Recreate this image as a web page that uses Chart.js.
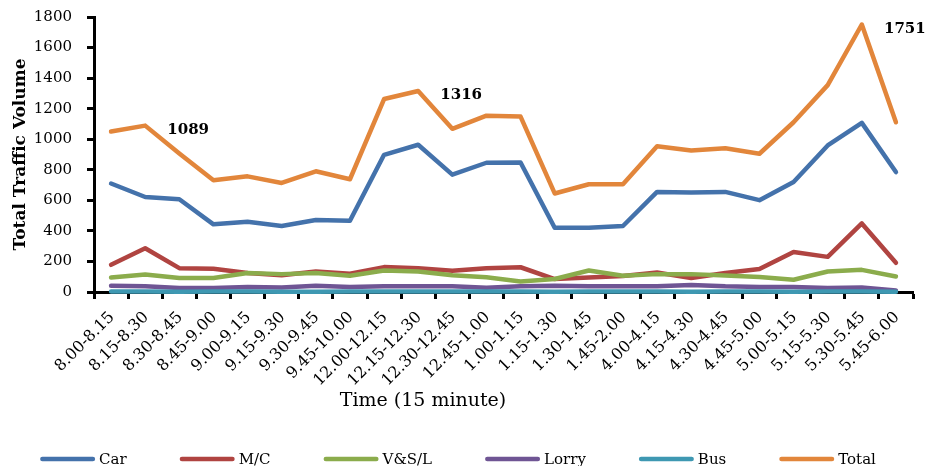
<!DOCTYPE html>
<html>
<head>
<meta charset="utf-8">
<script src="https://cdn.jsdelivr.net/npm/chart.js@4.4.1/dist/chart.umd.min.js"></script>
<style>
  html, body { margin: 0; padding: 0; background: #ffffff; }
  canvas { display: block; }
</style>
</head>
<body>
<canvas id="traffic" width="926" height="466"></canvas>
<script>
// 15-minute counting intervals (morning, midday and evening sessions)
const timeSlots = [
  '8.00-8.15', '8.15-8.30', '8.30-8.45', '8.45-9.00', '9.00-9.15', '9.15-9.30',
  '9.30-9.45', '9.45-10.00', '12.00-12.15', '12.15-12.30', '12.30-12.45', '12.45-1.00',
  '1.00-1.15', '1.15-1.30', '1.30-1.45', '1.45-2.00', '4.00-4.15', '4.15-4.30',
  '4.30-4.45', '4.45-5.00', '5.00-5.15', '5.15-5.30', '5.30-5.45', '5.45-6.00'
];

// Vehicle counts per interval
const car   = [710, 622, 607, 443, 460, 432, 471, 466, 898, 964, 768, 846, 848, 421, 421, 432, 655, 651, 655, 601, 720, 959, 1107, 785];
const moto  = [178, 286, 156, 152, 124, 110, 134, 119, 163, 156, 139, 156, 162, 85, 95, 105, 128, 91, 124, 150, 262, 230, 449, 191];
const vsl   = [95, 115, 91, 91, 124, 117, 124, 106, 141, 134, 110, 96, 69, 85, 141, 106, 117, 117, 108, 98, 80, 134, 145, 102];
const lorry = [41, 37, 26, 26, 33, 30, 41, 33, 37, 37, 37, 28, 37, 41, 37, 37, 37, 46, 37, 33, 33, 26, 30, 10];
const bus   = [3, 3, 2, 3, 3, 2, 2, 3, 3, 4, 3, 3, 3, 2, 3, 3, 3, 2, 3, 3, 2, 3, 3, 2];
const total = [1050, 1089, 907, 731, 757, 714, 790, 738, 1263, 1316, 1068, 1154, 1148, 645, 705, 705, 954, 926, 941, 905, 1111, 1354, 1751, 1111];

// Value axis ticks
const yMin = 0;
const yMax = 1800;
const yStep = 200;

// Number of intervals in each counting session
const sessionLength = 8;

const SERIF = '"DejaVu Serif", "Liberation Serif", serif';

function series(label, data, color, order) {
  return {
    label: label,
    data: data,
    borderColor: color,
    backgroundColor: color,
    borderWidth: 4.5,
    pointRadius: 0,
    pointHoverRadius: 0,
    tension: 0,
    borderJoinStyle: 'round',
    borderCapStyle: 'round',
    clip: 4,
    order: order
  };
}

// Peak of each session on the Total line, written next to its point
const peakLabels = {
  id: 'peakLabels',
  afterDatasetsDraw(chart) {
    const idx = chart.data.datasets.findIndex(d => d.label === 'Total');
    const meta = chart.getDatasetMeta(idx);
    const values = chart.data.datasets[idx].data;
    const ctx = chart.ctx;
    ctx.save();
    ctx.font = 'bold 15px ' + SERIF;
    ctx.fillStyle = '#000';
    ctx.textAlign = 'center';
    ctx.textBaseline = 'alphabetic';
    for (let s = 0; s < values.length; s += sessionLength) {
      let best = s;
      for (let i = s; i < Math.min(s + sessionLength, values.length); i++) {
        if (values[i] > values[best]) best = i;
      }
      const pt = meta.data[best];
      ctx.fillText(String(values[best]), pt.x + 43, pt.y + 8.5);
    }
    ctx.restore();
  }
};

// Horizontal axis caption
const timeCaption = {
  id: 'timeCaption',
  afterDraw(chart) {
    const ctx = chart.ctx;
    const area = chart.chartArea;
    ctx.save();
    ctx.font = '19px ' + SERIF;
    ctx.fillStyle = '#000';
    ctx.textAlign = 'center';
    ctx.textBaseline = 'alphabetic';
    ctx.fillText('Time (15 minute)', area.left + 329, area.bottom + 114);
    ctx.restore();
  }
};

// Single-row key under the chart
const keyRow = {
  id: 'keyRow',
  afterDraw(chart) {
    const ctx = chart.ctx;
    const swatch = 55, textGap = 4, itemGap = 53, yMid = 459;
    ctx.save();
    ctx.font = '15px ' + SERIF;
    const items = chart.data.datasets.map(d => ({
      label: d.label, color: d.borderColor, w: ctx.measureText(d.label).width
    }));
    const full = items.reduce((s, it) => s + swatch + textGap + it.w, 0) + itemGap * (items.length - 1);
    let x = 458 - full / 2;
    items.forEach(it => {
      ctx.strokeStyle = it.color;
      ctx.lineWidth = 4.5;
      ctx.lineCap = 'round';
      ctx.beginPath();
      ctx.moveTo(x + 2.25, yMid);
      ctx.lineTo(x + swatch - 2.25, yMid);
      ctx.stroke();
      ctx.fillStyle = '#000';
      ctx.textAlign = 'left';
      ctx.textBaseline = 'alphabetic';
      ctx.fillText(it.label, x + swatch + textGap, yMid + 5);
      x += swatch + textGap + it.w + itemGap;
    });
    ctx.restore();
  }
};

new Chart(document.getElementById('traffic'), {
  type: 'line',
  data: {
    labels: timeSlots,
    datasets: [
      series('Car', car, '#4472ab', 5),
      series('M/C', moto, '#b04441', 4),
      series('V&S/L', vsl, '#8bac4c', 3),
      series('Lorry', lorry, '#6f5594', 2),
      series('Bus', bus, '#3e98b2', 1),
      series('Total', total, '#e2863b', 0)
    ]
  },
  options: {
    responsive: false,
    animation: false,
    devicePixelRatio: 1,
    layout: { padding: { left: 0, right: 13, top: 17, bottom: 0 } },
    plugins: {
      legend: { display: false },
      tooltip: { enabled: false },
      title: { display: false }
    },
    scales: {
      x: {
        offset: true,
        grid: {
          offset: true,
          drawOnChartArea: false,
          drawTicks: true,
          tickLength: 7,
          tickWidth: 3,
          tickColor: '#000',
          z: -1
        },
        border: { display: true, color: '#000', width: 3, z: -1 },
        ticks: {
          autoSkip: false,
          minRotation: 45,
          maxRotation: 45,
          padding: 9,
          labelOffset: 1,
          color: '#000',
          font: { family: SERIF, size: 16 }
        },
        afterFit(scale) {
          scale.height = 174;
          scale.paddingLeft = 0;
          scale.paddingRight = 0;
        }
      },
      y: {
        min: yMin,
        max: yMax,
        grid: {
          drawOnChartArea: false,
          drawTicks: true,
          tickLength: 7,
          tickWidth: 3,
          tickColor: '#000',
          z: -1
        },
        border: { display: true, color: '#000', width: 3, z: -1 },
        ticks: {
          stepSize: yStep,
          padding: 15,
          color: '#000',
          font: { family: SERIF, size: 15 },
          callback: v => String(v)
        },
        title: {
          display: true,
          text: 'Total Traffic Volume',
          color: '#000',
          font: { family: SERIF, size: 17, weight: 'bold' },
          padding: { top: 10, bottom: 0 }
        },
        afterFit(scale) {
          scale.width = 94;
          scale.paddingTop = 0;
          scale.paddingBottom = 0;
        }
      }
    }
  },
  plugins: [peakLabels, timeCaption, keyRow]
});
</script>
</body>
</html>
